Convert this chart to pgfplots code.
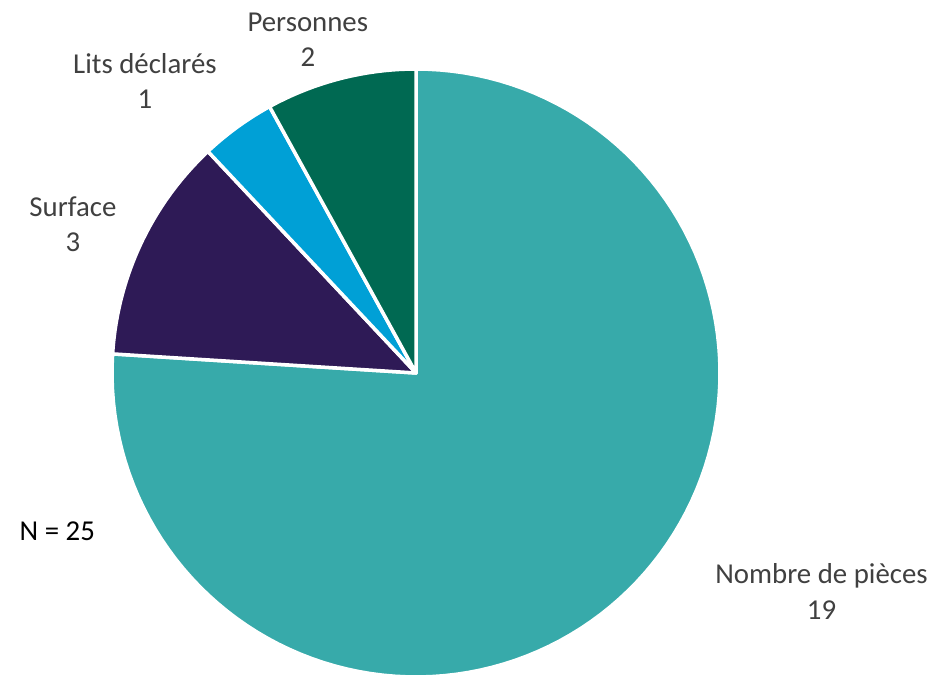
\documentclass[border=0pt]{standalone}
\usepackage{fontspec}
\setmainfont{Carlito}
\usepackage{pgfplots}
\pgfplotsset{compat=1.18}
\definecolor{cPieces}{RGB}{55,170,170}
\definecolor{cSurface}{RGB}{46,26,86}
\definecolor{cLits}{RGB}{0,160,214}
\definecolor{cPers}{RGB}{0,105,82}
\definecolor{txt}{RGB}{64,64,64}
% values
\def\vPieces{19}
\def\vSurface{3}
\def\vLits{1}
\def\vPers{2}
\pgfmathsetmacro{\tot}{\vPieces+\vSurface+\vLits+\vPers}
\pgfmathsetmacro{\aA}{90}
\pgfmathsetmacro{\aB}{\aA-360*\vPieces/\tot}
\pgfmathsetmacro{\aC}{\aB-360*\vSurface/\tot}
\pgfmathsetmacro{\aD}{\aC-360*\vLits/\tot}
\pgfmathsetmacro{\aE}{\aD-360*\vPers/\tot}
\def\cx{416}
\def\cy{302}
\def\R{304}
\begin{document}
\begin{tikzpicture}
\begin{axis}[
  at={(0,0)}, anchor=south west,
  scale only axis, width=9.46cm, height=6.75cm,
  xmin=0, xmax=946, ymin=0, ymax=675,
  hide axis, clip=true,
  every axis plot/.append style={line join=round, draw=white, line width=1pt},
]
\addplot[fill=cPieces, domain=\aB:\aA, samples=120, variable=\t]
  ({\cx+\R*cos(\t)}, {\cy+\R*sin(\t)}) -- (axis cs:\cx,\cy) -- cycle;
\addplot[fill=cSurface, domain=\aC:\aB, samples=30, variable=\t]
  ({\cx+\R*cos(\t)}, {\cy+\R*sin(\t)}) -- (axis cs:\cx,\cy) -- cycle;
\addplot[fill=cLits, domain=\aD:\aC, samples=15, variable=\t]
  ({\cx+\R*cos(\t)}, {\cy+\R*sin(\t)}) -- (axis cs:\cx,\cy) -- cycle;
\addplot[fill=cPers, domain=\aE:\aD, samples=20, variable=\t]
  ({\cx+\R*cos(\t)}, {\cy+\R*sin(\t)}) -- (axis cs:\cx,\cy) -- cycle;
\end{axis}
\begin{scope}[x=0.01cm,y=0.01cm]
\tikzset{lbl/.style={text=txt, align=center, font=\fontsize{8.2}{10}\selectfont, inner sep=0pt}}
\node[lbl] at (308,635.5) {Personnes\\\vPers};
\node[lbl] at (145,594.5) {Lits déclarés\\\vLits};
\node[lbl] at (73,451) {Surface\\\vSurface};
\node[lbl] at (822,83.5) {Nombre de pièces\\\vPieces};
\node[anchor=west, inner sep=0pt, font=\fontsize{8.2}{10}\selectfont] at (19,144) {N = 25};
\end{scope}
\pgfresetboundingbox
\path (0,0) rectangle (9.46cm,6.75cm);
\end{tikzpicture}
\end{document}
